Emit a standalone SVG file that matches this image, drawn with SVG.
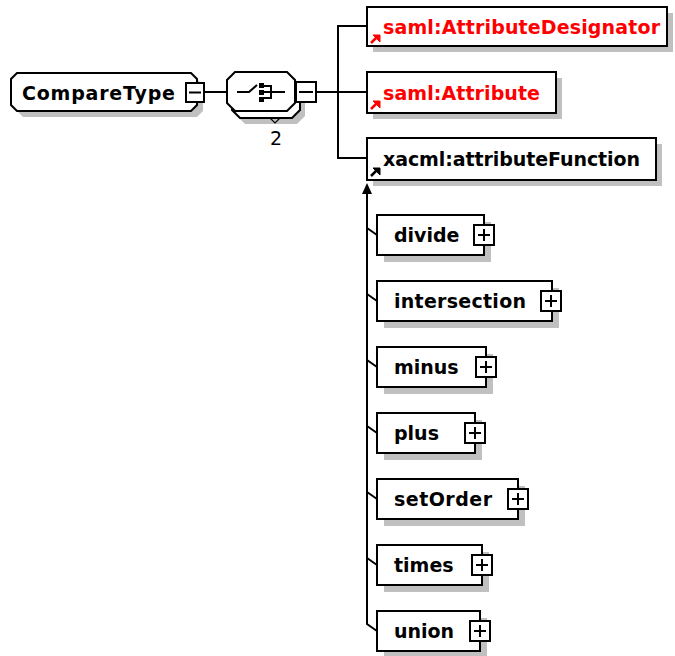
<svg xmlns="http://www.w3.org/2000/svg" width="675" height="656" viewBox="0 0 675 656">
<style>
.sh{fill:#c0c0c0;stroke:none}
.bx{fill:#fff;stroke:#000;stroke-width:2}
.ln{fill:none;stroke:#000;stroke-width:2}
.t{font-family:"DejaVu Sans",sans-serif;font-weight:bold;font-size:19px;fill:#000}
.r{fill:#ff0000}
.n{font-family:"DejaVu Sans",sans-serif;font-size:19px;fill:#000}
</style>
<defs>
<g id="plusbox"><rect x="0" y="0" width="20" height="20" class="bx"/><path d="M4,10H16M10,4V16" class="ln" stroke-width="1.5"/></g>
<g id="refarrow"><path d="M1,9L6,4" stroke-width="2.5" fill="none"/><path d="M3,1H10V8Z"/></g>
</defs>
<rect width="675" height="656" fill="#fff"/>

<g id="connectors">
<line x1="204" y1="92" x2="227" y2="92" class="ln"/>
<line x1="316" y1="92" x2="367" y2="92" class="ln"/>
<path d="M367,26H338V158H367" class="ln"/>
<path d="M367,191V624L377,631" class="ln"/>
<path d="M367,183L362,194H372Z" fill="#000"/>
<path d="M367,228L377,235M367,294L377,301M367,360L377,367M367,426L377,433M367,492L377,499M367,558L377,565" class="ln" stroke-width="1.5"/>
</g>

<g id="CompareType">
<path d="M23,79H197L203,85V111L197,117H23L17,111V85Z" class="sh"/>
<path d="M17,73H191L197,79V105L191,111H17L11,105V79Z" class="bx"/>
<text x="22" y="100" class="t" textLength="153" lengthAdjust="spacing">CompareType</text>
<rect x="186" y="83" width="18" height="19" class="bx"/>
<line x1="189" y1="92.5" x2="201" y2="92.5" class="ln" stroke-width="1.5"/>
</g>

<g id="sequence">
<path d="M245,84H297L305,92V116L297,124H245L237,116V92Z" class="sh"/>
<path d="M240,78H292L300,86V110L292,118H240L232,110V86Z" class="bx"/>
<path d="M235,72H287L295,80V103L287,111H235L227,103V80Z" class="bx"/>
<path d="M237,92H249L257,85M264,86H271V98H264M264,92H285" class="ln" stroke-width="1.5"/>
<rect x="259" y="83" width="5" height="5" fill="#000"/>
<rect x="259" y="90" width="5" height="5" fill="#000"/>
<rect x="259" y="97" width="5" height="5" fill="#000"/>
<rect x="296" y="82" width="20" height="20" class="bx"/>
<line x1="299" y1="92" x2="313" y2="92" class="ln" stroke-width="1.5"/>
<path d="M270,118L275,123L280,118" fill="none" stroke="#000" stroke-width="1.2"/>
<text x="270" y="145" class="n">2</text>
</g>

<g id="AttributeDesignator">
<rect x="373" y="13" width="300" height="39" class="sh"/>
<rect x="367" y="7" width="300" height="39" class="bx"/>
<use href="#refarrow" x="370" y="34" fill="#ff0000" stroke="#ff0000"/>
<text x="383" y="34" class="t r" textLength="277" lengthAdjust="spacing">saml:AttributeDesignator</text>
</g>

<g id="Attribute">
<rect x="373" y="78" width="189" height="41" class="sh"/>
<rect x="367" y="72" width="189" height="41" class="bx"/>
<use href="#refarrow" x="370" y="100" fill="#ff0000" stroke="#ff0000"/>
<text x="383" y="100" class="t r" textLength="157" lengthAdjust="spacing">saml:Attribute</text>
</g>

<g id="attributeFunction">
<rect x="373" y="144" width="289" height="42" class="sh"/>
<rect x="367" y="138" width="289" height="42" class="bx"/>
<use href="#refarrow" x="370" y="167" fill="#000" stroke="#000"/>
<text x="383" y="166" class="t" textLength="257" lengthAdjust="spacing">xacml:attributeFunction</text>
</g>

<g id="divide">
<rect x="384" y="222" width="107" height="40" class="sh"/>
<rect x="377" y="215" width="107" height="40" class="bx"/>
<text x="394" y="242" class="t">divide</text>
<use href="#plusbox" x="474" y="225"/>
</g>

<g id="intersection">
<rect x="384" y="288" width="175" height="40" class="sh"/>
<rect x="377" y="281" width="175" height="40" class="bx"/>
<text x="394" y="308" class="t" textLength="132" lengthAdjust="spacing">intersection</text>
<use href="#plusbox" x="541" y="291"/>
</g>

<g id="minus">
<rect x="384" y="354" width="109" height="40" class="sh"/>
<rect x="377" y="347" width="109" height="40" class="bx"/>
<text x="394" y="374" class="t">minus</text>
<use href="#plusbox" x="476" y="357"/>
</g>

<g id="plus">
<rect x="384" y="420" width="98" height="40" class="sh"/>
<rect x="377" y="413" width="98" height="40" class="bx"/>
<text x="394" y="440" class="t">plus</text>
<use href="#plusbox" x="465" y="423"/>
</g>

<g id="setOrder">
<rect x="384" y="486" width="141" height="40" class="sh"/>
<rect x="377" y="479" width="141" height="40" class="bx"/>
<text x="394" y="506" class="t" textLength="98" lengthAdjust="spacing">setOrder</text>
<use href="#plusbox" x="508" y="489"/>
</g>

<g id="times">
<rect x="384" y="552" width="105" height="40" class="sh"/>
<rect x="377" y="545" width="105" height="40" class="bx"/>
<text x="394" y="572" class="t">times</text>
<use href="#plusbox" x="472" y="555"/>
</g>

<g id="union">
<rect x="384" y="618" width="103" height="40" class="sh"/>
<rect x="377" y="611" width="103" height="40" class="bx"/>
<text x="394" y="638" class="t">union</text>
<use href="#plusbox" x="470" y="621"/>
</g>
</svg>
